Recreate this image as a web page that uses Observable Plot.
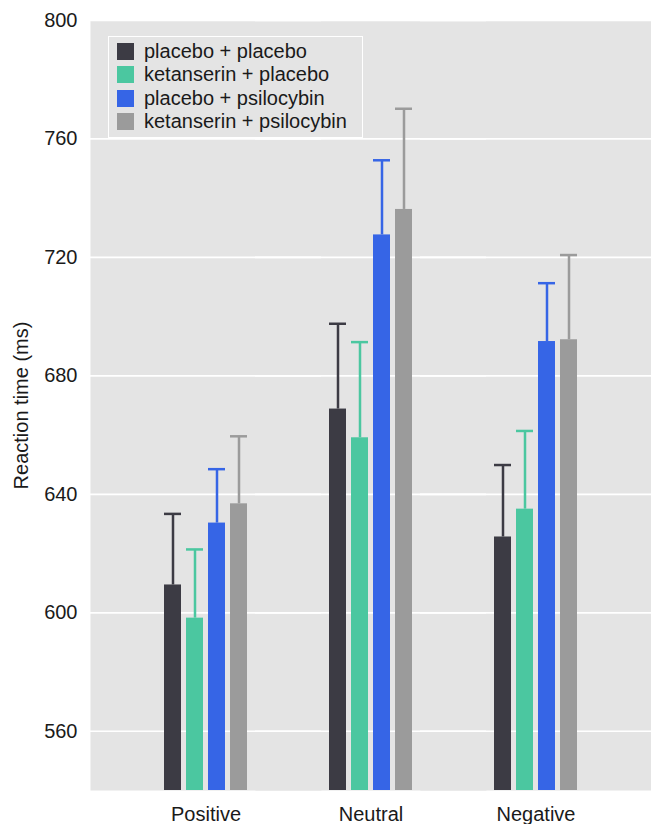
<!DOCTYPE html>
<html>
<head>
<meta charset="utf-8">
<script src="https://cdn.jsdelivr.net/npm/d3@7"></script>
<script src="https://cdn.jsdelivr.net/npm/@observablehq/plot@0.6"></script>
<style>
html, body { margin: 0; padding: 0; background: #fff; }
#wrap { position: relative; width: 651px; height: 824px; }
#legend { position: absolute; left: 108px; top: 36px; width: 255px; height: 102px; box-sizing: border-box;
  border: 1.5px solid #fff; padding: 3px 0 0 8px; background: #e4e4e4; }
#legend .lg-swatches { font-family: 'Liberation Sans', Arial, sans-serif; font-size: 20px; color: #1a1a1a; margin: 0; }
#legend .lg-swatch { height: 23.3px; padding-bottom: 0; display: flex; align-items: center; }
#legend .lg-swatch > svg { margin-right: 10px; }
</style>
</head>
<body>
<div id="wrap"><div id="legend"></div></div>
<script>
const conditions = ["Positive", "Neutral", "Negative"];
const series = ["placebo + placebo", "ketanserin + placebo", "placebo + psilocybin", "ketanserin + psilocybin"];
const colors = ["#3c3b44", "#4bc7a0", "#3665e6", "#9b9b9b"];
// mean reaction time per series, in order of conditions
const meanPlaceboPlacebo = [609.4, 668.8, 625.6];
const meanKetanserinPlacebo = [598.2, 659.1, 635.0];
const meanPlaceboPsilocybin = [630.3, 727.6, 691.6];
const meanKetanserinPsilocybin = [636.8, 736.2, 692.2];
// upper end of error bar
const upperPlaceboPlacebo = [633.4, 697.6, 649.9];
const upperKetanserinPlacebo = [621.4, 691.4, 661.4];
const upperPlaceboPsilocybin = [648.5, 752.8, 711.3];
const upperKetanserinPsilocybin = [659.6, 770.2, 720.8];
const yDomain = [540, 800];
const yTicks = [560, 600, 640, 680, 720, 760, 800];

const means = [meanPlaceboPlacebo, meanKetanserinPlacebo, meanPlaceboPsilocybin, meanKetanserinPsilocybin];
const uppers = [upperPlaceboPlacebo, upperKetanserinPlacebo, upperPlaceboPsilocybin, upperKetanserinPsilocybin];
const data = series.flatMap((s, j) => conditions.map((c, i) => ({condition: c, series: s, mean: means[j][i], upper: uppers[j][i]})));

const chart = Plot.plot({
  width: 651, height: 824,
  marginLeft: 123, marginRight: 33, marginTop: 20, marginBottom: 34,
  style: {fontFamily: "'Liberation Sans', Arial, sans-serif", fontSize: "20px", color: "#1a1a1a", background: "#fff", overflow: "visible"},
  fx: {domain: conditions, paddingInner: 0, paddingOuter: 0, label: null},
  x: {domain: series, paddingInner: 0.25, paddingOuter: 1.76, axis: null},
  y: {domain: yDomain, label: null},
  color: {domain: series, range: colors},
  marks: [
    Plot.frame({fill: "#e4e4e4", insetLeft: -33, insetRight: -33}),
    Plot.gridY({ticks: yTicks, stroke: "#fff", strokeOpacity: 1, strokeWidth: 1.7, insetLeft: -33, insetRight: -33}),
    Plot.barY(data, {fx: "condition", x: "series", y: "mean", fill: "series", inset: 0, clip: true}),
    Plot.ruleX(data, {fx: "condition", x: "series", y1: "mean", y2: "upper", stroke: "series", strokeWidth: 2.5}),
    Plot.tickY(data, {fx: "condition", x: "series", y: "upper", stroke: "series", strokeWidth: 2.5}),
    Plot.axisY({ticks: yTicks, tickSize: 0, tickPadding: 46, label: "Reaction time (ms)", labelArrow: "none", labelAnchor: "center", labelOffset: 110}),
    Plot.axisFx({anchor: "bottom", tickSize: 0, tickPadding: 16, label: null})
  ]
});
document.getElementById("wrap").insertBefore(chart, document.getElementById("legend"));
const leg = chart.legend("color", {columns: 1, swatchSize: 17, className: "lg"});
document.getElementById("legend").appendChild(leg);
</script>
</body>
</html>
